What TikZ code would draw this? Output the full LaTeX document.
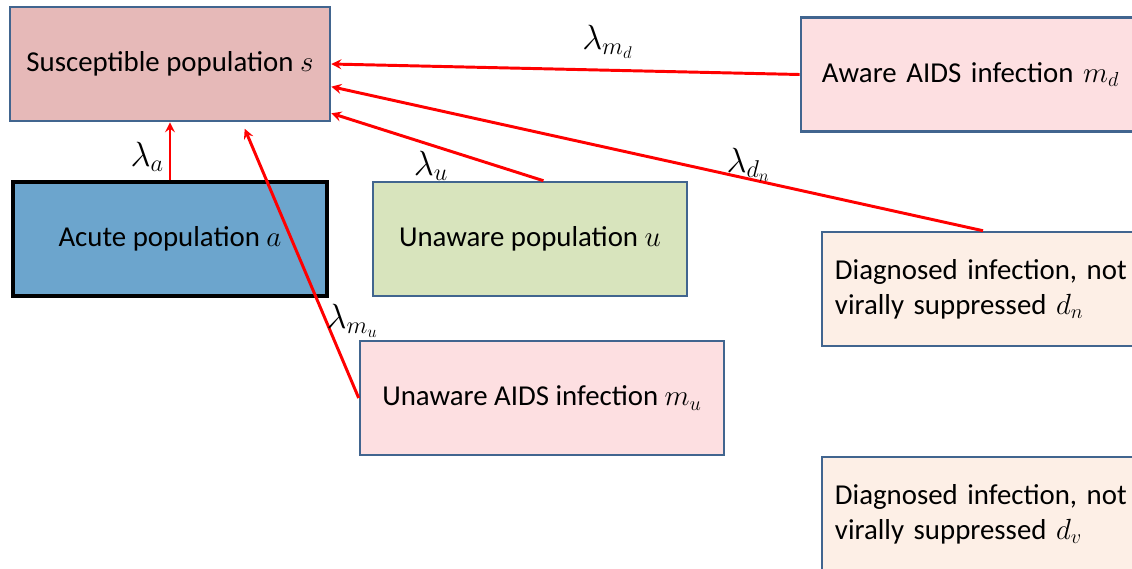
\documentclass[tikz,border=0pt]{standalone}
\usepackage{fontspec}
\setmainfont{Carlito}
\usepackage{tikz}
\usetikzlibrary{arrows, positioning}
\definecolor{boxline}{HTML}{41658F}
\definecolor{suscFill}{HTML}{E6B9B8}
\definecolor{acuteFill}{HTML}{6CA5CD}
\definecolor{unawareFill}{HTML}{D8E4BD}
\definecolor{aidsFill}{HTML}{FDDFE1}
\definecolor{diagFill}{HTML}{FDEFE6}
\definecolor{rateRed}{HTML}{FF0000}
\tikzstyle{box} = [rectangle, draw=boxline, line width=1.8pt, minimum height=2.85cm, text centered]
\tikzstyle{sidebox} = [box, align=left, inner xsep=0.33cm]
\tikzstyle{rate} = [->, >=stealth, line width=2.1pt, draw=rateRed]
\tikzstyle{ratelabel} = [font=\fontsize{23}{28}\selectfont]

\begin{document}
\begin{tikzpicture}[x=0.025cm, y=-0.025cm, font=\fontsize{20.5}{25}\selectfont]
    \useasboundingbox (0,0) rectangle (1132,568);
    \clip (0,0) rectangle (1132,568);
    \node (s) [box, fill=suscFill, minimum width=8cm] at (170,64) {Susceptible population $s$};
    \node (a) [box, fill=acuteFill, draw=black, line width=2.3pt, minimum width=7.85cm] at (170,239) {Acute population $a$};
    \node (u) [box, fill=unawareFill, minimum width=7.85cm] at (530,239) {Unaware population $u$};
    \node (mu) [box, fill=aidsFill, minimum width=9.1cm] at (542,398) {Unaware AIDS infection $m_u$};
    \node (md) [sidebox, fill=aidsFill, minimum width=8.5cm, text width=7.45cm, inner xsep=0.52cm] at (971,74.5) {Aware AIDS infection $m_d$};
    \node (dn) [sidebox, fill=diagFill, minimum width=8.05cm, text width=7.4cm] at (983,289) {Diagnosed infection, not\\virally suppressed $d_n$};
    \node (dv) [sidebox, fill=diagFill, minimum width=8.05cm, text width=7.4cm] at (983,514) {Diagnosed infection, not\\virally suppressed $d_v$};
    \draw [rate] (a) -- node [ratelabel, left, pos=0.4] {$\lambda_a$} (s);
    \draw [rate, shorten >=5pt] (mu.west) -- node [ratelabel, right, pos=0.28, xshift=-4pt] {$\lambda_{m_u}$} (s.-39);
    \draw [rate] (u.77) -- node [ratelabel, below, pos=0.53] {$\lambda_u$} (s.-17);
    \draw [rate] (dn.north) -- node [ratelabel, above, pos=0.36, yshift=-6pt] {$\lambda_{d_n}$} (s.-8.5);
    \draw [rate] (md.west) -- node [ratelabel, above=4pt, pos=0.41] {$\lambda_{m_d}$} (s.east);
\end{tikzpicture}
\end{document}
